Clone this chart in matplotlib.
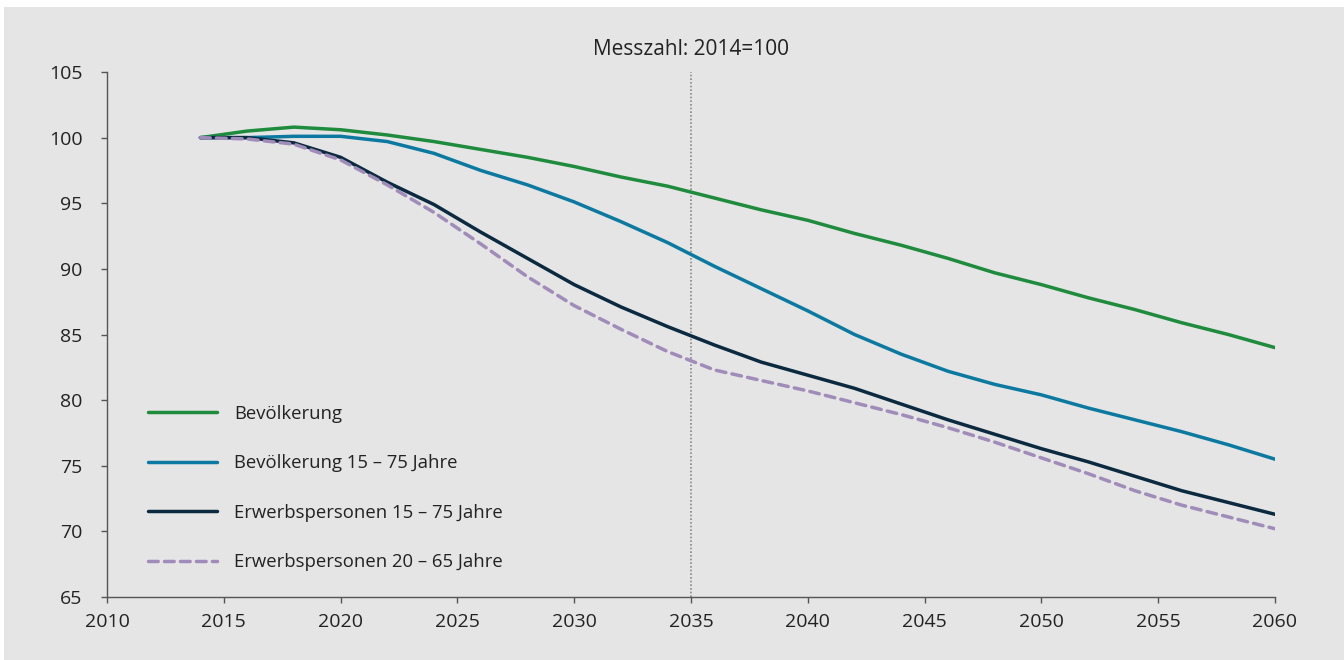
import numpy as np
import matplotlib
matplotlib.use("Agg")
import matplotlib.pyplot as plt
from matplotlib.patches import Rectangle

plt.rcParams['font.family'] = ['Open Sans', 'DejaVu Sans']

# values (Messzahl: 2014 = 100)
years = [2014, 2016, 2018, 2020, 2022, 2024, 2026, 2028, 2030, 2032, 2034, 2036,
         2038, 2040, 2042, 2044, 2046, 2048, 2050, 2052, 2054, 2056, 2058, 2060]
bevoelkerung = [100.0, 100.5, 100.8, 100.6, 100.2, 99.7, 99.1, 98.5, 97.8, 97.0, 96.3, 95.4,
                94.5, 93.7, 92.7, 91.8, 90.8, 89.7, 88.8, 87.8, 86.9, 85.9, 85.0, 84.0]
bev_15_75 = [100.0, 100.0, 100.1, 100.1, 99.7, 98.8, 97.5, 96.4, 95.1, 93.6, 92.0, 90.2,
             88.5, 86.8, 85.0, 83.5, 82.2, 81.2, 80.4, 79.4, 78.5, 77.6, 76.6, 75.5]
erw_15_75 = [100.0, 100.0, 99.6, 98.5, 96.6, 94.9, 92.8, 90.8, 88.8, 87.1, 85.6, 84.2,
             82.9, 81.9, 80.9, 79.7, 78.5, 77.4, 76.3, 75.3, 74.2, 73.1, 72.2, 71.3]
erw_20_65 = [100.0, 99.9, 99.5, 98.3, 96.4, 94.3, 91.9, 89.4, 87.2, 85.4, 83.7, 82.3,
             81.5, 80.7, 79.8, 78.9, 77.9, 76.8, 75.6, 74.4, 73.1, 72.0, 71.1, 70.2]

labels = ['Bevölkerung', 'Bevölkerung 15 – 75 Jahre',
          'Erwerbspersonen 15 – 75 Jahre', 'Erwerbspersonen 20 – 65 Jahre']
colors = ['#1f8b3d', '#0c7aa0', '#0b2a40', '#a08cb8']

bg = '#e5e5e5'
fig = plt.figure(figsize=(13.44, 6.6), dpi=100)
fig.patch.set_facecolor(bg)
# small white margin at top and left
fig.patches.append(Rectangle((0, 1 - 7 / 660), 1, 7 / 660, transform=fig.transFigure,
                             facecolor='white', edgecolor='none', zorder=-10))
fig.patches.append(Rectangle((0, 0), 4 / 1344, 1, transform=fig.transFigure,
                             facecolor='white', edgecolor='none', zorder=-10))

ax = fig.add_axes([107 / 1344, 1 - 597 / 660, 1168 / 1344, 525 / 660])
ax.set_facecolor(bg)

lw = 2.5
ax.plot(years, bevoelkerung, color=colors[0], lw=lw, label=labels[0], solid_capstyle='round')
ax.plot(years, bev_15_75, color=colors[1], lw=lw, label=labels[1], solid_capstyle='round')
ax.plot(years, erw_15_75, color=colors[2], lw=lw, label=labels[2], solid_capstyle='round')
ax.plot(years, erw_20_65, color=colors[3], lw=lw, label=labels[3],
        linestyle=(0, (2.8, 1.8)), dash_capstyle='round')

ax.axvline(2035, color='#888888', lw=1.2, linestyle=(0, (1, 1.2)), zorder=0)

ax.set_xlim(2010, 2060)
ax.set_ylim(65, 105)
ax.set_xticks(np.arange(2010, 2061, 5))
ax.set_yticks(np.arange(65, 106, 5))

for s in ['top', 'right']:
    ax.spines[s].set_visible(False)
for s in ['left', 'bottom']:
    ax.spines[s].set_color('#555555')
    ax.spines[s].set_linewidth(1.0)

ax.tick_params(axis='both', colors='#555555', labelcolor='#222222', labelsize=14,
               length=4.5, width=1.0, direction='out')
ax.tick_params(axis='y', pad=13)
ax.tick_params(axis='x', pad=7)

ax.set_title('Messzahl: 2014=100', fontsize=15, color='#222222', pad=12)

leg = ax.legend(loc='upper left', bbox_to_anchor=(0.035, 0.366), frameon=False,
                fontsize=13.3, handlelength=3.75, handletextpad=0.9, labelspacing=1.7,
                borderpad=0, borderaxespad=0)
for t in leg.get_texts():
    t.set_color('#222222')

fig.savefig('out.png', dpi=100, facecolor=fig.get_facecolor())
